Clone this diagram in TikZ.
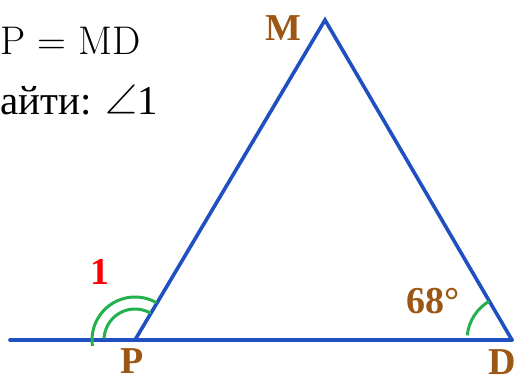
\documentclass[tikz,border=0pt]{standalone}
\usepackage{fontspec}
\setmainfont{Liberation Serif}
\newfontfamily\timesf{Liberation Serif}
\newfontfamily\lmf{Latin Modern Roman}
\newfontfamily\symf{Latin Modern Math}
\definecolor{lineblue}{HTML}{1F4FC0}
\definecolor{arcgreen}{HTML}{22B14C}
\definecolor{labbrown}{HTML}{9C5714}
\begin{document}
\begin{tikzpicture}[x=1pt,y=1pt,
  seg/.style={draw=lineblue,line width=3.6pt,line cap=round},
  angarc/.style={draw=arcgreen,line width=3pt},
  vlabel/.style={text=labbrown,font=\timesf\fontsize{38}{40}\selectfont\bfseries,inner sep=0pt},
  given/.style={inner sep=0pt,anchor=base west,font=\timesf\fontsize{41}{46}\selectfont}]
\useasboundingbox (0,0) rectangle (516,383);
\coordinate (P) at (135,43);
\coordinate (M) at (325,363);
\coordinate (D) at (512,43);
\coordinate (L) at (10,43);
% text
\node[given,font=\lmf\fontsize{40}{46}\selectfont] (t1) at (0,328) {P = MD};
\node[given] (t2) at (0,268) {айти: {\symf ∠}1};
% lines
\draw[seg] (L) -- (D);
\draw[seg] (P) -- (M) -- (D);
% angle arcs
\draw[angarc] ([shift={(188:43)}]P) arc (188:60:43);
\draw[angarc] ([shift={(177:31)}]P) arc (177:60:31);
\draw[angarc] ([shift={(120.5:45)}]D) arc (120.5:174:45);
% labels
\node[vlabel] (lM) at (283,355) {M};
\node[vlabel] (lP) at (132,22) {P};
\node[vlabel,anchor=north] (lD) at (502,34) {D};
\node[vlabel,text=red] (l1) at (100,111) {1};
\node[vlabel] (l68) at (433,82) {68°};
\end{tikzpicture}
\end{document}
